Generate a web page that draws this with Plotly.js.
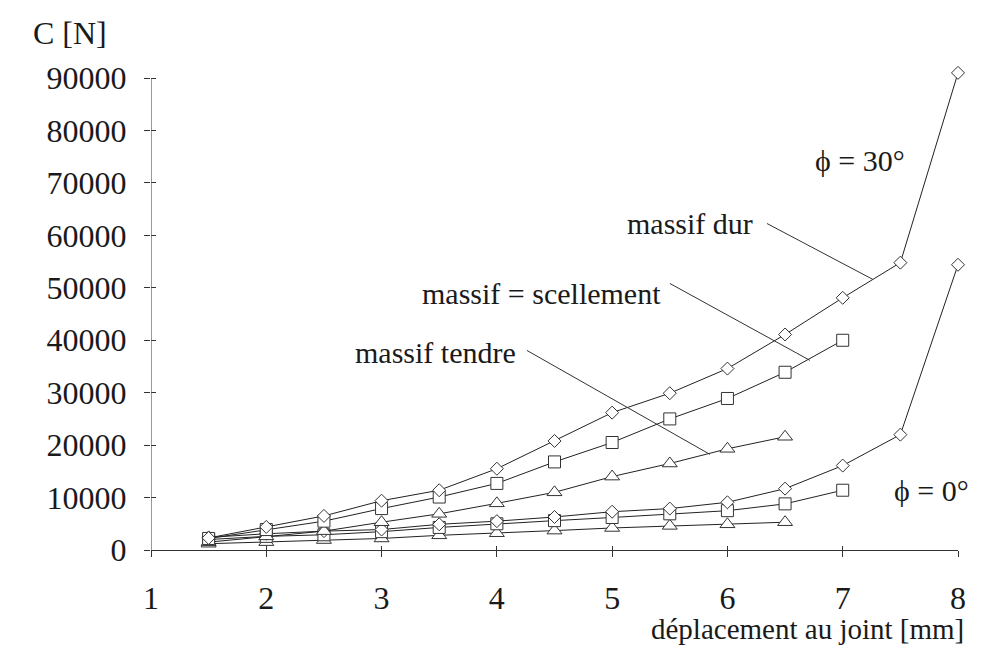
<!DOCTYPE html>
<html>
<head>
<meta charset="utf-8">
<script src="https://cdn.plot.ly/plotly-3.0.1.min.js"></script>
<style>html,body{margin:0;padding:0;background:#fff;}</style>
</head>
<body>
<div id="chart" style="width:992px;height:648px;"></div>
<script>
// Displacement at the joint [mm]
const xLong = [1.5, 2, 2.5, 3, 3.5, 4, 4.5, 5, 5.5, 6, 6.5, 7, 7.5, 8];
const xMid  = [1.5, 2, 2.5, 3, 3.5, 4, 4.5, 5, 5.5, 6, 6.5, 7];
const xShort= [1.5, 2, 2.5, 3, 3.5, 4, 4.5, 5, 5.5, 6, 6.5];

// phi = 30°
const dur30      = [2300, 4400, 6500, 9400, 11400, 15500, 20800, 26200, 29900, 34600, 41100, 48100, 54800, 91000];
const scell30    = [2200, 3900, 5500, 7900, 10100, 12700, 16800, 20500, 25000, 28900, 33900, 40000];
const tendre30   = [1500, 2600, 3600, 5300, 6900, 8900, 11000, 14000, 16500, 19300, 21600];
// phi = 0°
const dur0       = [2400, 3100, 3600, 3900, 4900, 5500, 6300, 7300, 7900, 9100, 11700, 16100, 22000, 54400];
const scell0     = [2000, 2600, 2900, 3500, 4300, 5000, 5600, 6200, 6900, 7500, 8800, 11400];
const tendre0    = [1200, 1500, 1900, 2200, 2800, 3200, 3700, 4200, 4600, 4900, 5300];

const xTicks = [1, 2, 3, 4, 5, 6, 7, 8];
const yTicks = [0, 10000, 20000, 30000, 40000, 50000, 60000, 70000, 80000, 90000];
const yAxisTop = 90000;
const yRangeTop = 92500;

// Text labels: [text, x, y]
const labels = [
  ["massif dur", 5.11, 62270],
  ["massif = scellement", 3.333, 48930],
  ["massif tendre", 2.752, 37680],
  ["ϕ = 30°", 6.742, 74280],
  ["ϕ = 0°", 7.427, 11380]
];
// Leader lines: [x0, y0, x1, y1]
const leaders = [
  [6.343, 62270, 7.262, 51600],
  [5.501, 50830, 6.716, 36160],
  [4.261, 38060, 5.848, 18240]
];

const FONT = "'Liberation Serif', 'Times New Roman', Times, serif";
const INK = "#1a1a1a";

function series(x, y, sym, size) {
  return {
    x: x, y: y, type: "scatter", mode: "lines+markers",
    line: {color: "#222", width: 1},
    marker: {symbol: sym, size: size, color: "#fff", line: {color: "#333", width: 1}},
    cliponaxis: false, showlegend: false, hoverinfo: "x+y"
  };
}

const traces = [
  series(xShort, tendre0, "triangle-up", 13),
  series(xMid, scell0, "square", 12),
  series(xLong, dur0, "diamond", 10),
  series(xShort, tendre30, "triangle-up", 13),
  series(xMid, scell30, "square", 12),
  series(xLong, dur30, "diamond", 10)
];

const annotations = labels.map(l => ({
  text: l[0], x: l[1], y: l[2], xref: "x", yref: "y",
  xanchor: "left", yanchor: "middle", showarrow: false,
  font: {family: FONT, size: 30, color: INK}
}));
annotations.push({
  text: "C [N]", xref: "paper", yref: "paper", x: -0.1487, y: 1.065,
  xanchor: "left", yanchor: "middle", showarrow: false,
  font: {family: FONT, size: 32, color: INK}
});
annotations.push({
  text: "déplacement au joint [mm]", xref: "paper", yref: "paper", x: 1.01, y: -0.163,
  xanchor: "right", yanchor: "middle", showarrow: false,
  font: {family: FONT, size: 29, color: INK}
});

const shapes = leaders.map(s => ({
  type: "line", xref: "x", yref: "y", x0: s[0], y0: s[1], x1: s[2], y1: s[3],
  line: {color: "#333", width: 1}
}));
// y axis line, ending at the top tick
shapes.push({type: "line", xref: "x", yref: "y", x0: 1, x1: 1, y0: 0, y1: yAxisTop,
  line: {color: "#555", width: 1.2}});

const layout = {
  width: 992, height: 648,
  margin: {l: 151, r: 34, t: 64.5, b: 98.3},
  paper_bgcolor: "#fff", plot_bgcolor: "#fff",
  showlegend: false,
  font: {family: FONT, color: INK},
  xaxis: {
    range: [1, 8], tickvals: xTicks, ticktext: xTicks.map(String),
    showgrid: false, zeroline: false, showline: true, linecolor: "#333", linewidth: 1,
    ticks: "outside", ticklen: 6, tickcolor: "#333", ticklabelstandoff: 14,
    tickfont: {family: FONT, size: 32, color: INK}
  },
  xaxis2: {
    overlaying: "x", range: [1, 8], tickvals: xTicks, showticklabels: false,
    showgrid: false, zeroline: false, showline: false,
    ticks: "inside", ticklen: 4, tickcolor: "#333"
  },
  yaxis: {
    range: [0, yRangeTop], tickvals: yTicks, ticktext: yTicks.map(String),
    showgrid: false, zeroline: false, showline: false,
    ticks: "outside", ticklen: 6, tickcolor: "#333", ticklabelstandoff: 11,
    tickfont: {family: FONT, size: 32, color: INK}
  },
  yaxis2: {
    overlaying: "y", range: [0, yRangeTop], tickvals: yTicks, showticklabels: false,
    showgrid: false, zeroline: false, showline: false,
    ticks: "inside", ticklen: 5, tickcolor: "#333"
  },
  annotations: annotations,
  shapes: shapes
};

traces.push({x: [1], y: [0], xaxis: "x2", yaxis: "y2", type: "scatter", mode: "markers",
  marker: {opacity: 0}, showlegend: false, hoverinfo: "skip"});

Plotly.newPlot("chart", traces, layout, {staticPlot: true, displayModeBar: false});
</script>
</body>
</html>
